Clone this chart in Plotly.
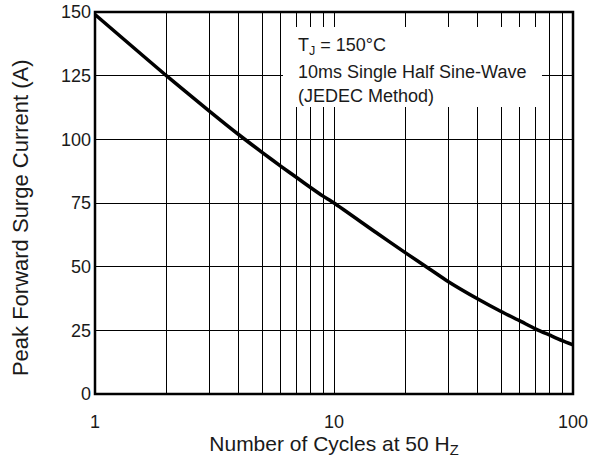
import plotly.graph_objects as go

cycles = [1, 2, 3, 4, 5, 6, 7, 8, 9, 10, 15, 20, 25, 30, 40, 50, 60, 70, 80, 90, 100]
current = [149, 124.8, 111.2, 101.8, 94.9, 89.4, 84.9, 81.0, 77.7, 75.0, 63.4, 55.3,
           49.2, 44.2, 37.3, 32.4, 28.7, 25.5, 23.1, 21.0, 19.3]

x_major = [1, 10, 100]
x_labels = ["1", "10", "100"]
x_minor = [2, 3, 4, 5, 6, 7, 8, 9, 20, 30, 40, 50, 60, 70, 80, 90]
y_ticks = [0, 25, 50, 75, 100, 125, 150]

note_lines = ["T<sub>J</sub> = 150°C", "10ms Single Half Sine-Wave", "(JEDEC Method)"]

FONT = "Liberation Sans, Arial, Helvetica, sans-serif"
TXT = "#1a1a1a"

fig = go.Figure()
fig.add_trace(go.Scatter(x=cycles, y=current, mode="lines",
                         line=dict(color="black", width=3.5, shape="spline", smoothing=0.6),
                         showlegend=False, hoverinfo="skip"))

fig.update_layout(
    width=599, height=462,
    margin=dict(l=95, r=26, t=12, b=68),
    paper_bgcolor="white", plot_bgcolor="white",
    font=dict(family=FONT, size=18, color=TXT),
    xaxis=dict(type="log", range=[0, 2], tickvals=x_major, ticktext=x_labels,
               showgrid=True, gridcolor="black", gridwidth=1,
               minor=dict(tickvals=x_minor, showgrid=True, gridcolor="black",
                          gridwidth=1, ticks=""),
               showline=False, ticks="", ticklabelstandoff=15, zeroline=False,
               automargin=False, tickfont=dict(size=18),
               title=dict(text="Number of Cycles at 50 H<sub>Z</sub>",
                          font=dict(size=21, family=FONT, color=TXT), standoff=3)),
    yaxis=dict(range=[0, 150], tickvals=y_ticks,
               showgrid=True, gridcolor="black", gridwidth=1,
               showline=False, ticks="", ticklabelstandoff=3, zeroline=False,
               automargin=False, tickfont=dict(size=18)),
)

# y-axis title (placed slightly below the plot centre, as in the reference)
fig.add_annotation(xref="paper", yref="paper", x=-0.157, y=0.463,
                   xanchor="center", yanchor="middle", textangle=-90, showarrow=False,
                   text="Peak Forward Surge Current (A)",
                   font=dict(size=22, family=FONT, color=TXT))

# white legend box hiding the grid
fig.add_shape(type="rect", xref="paper", yref="paper",
              x0=0.3933, x1=0.9351, y0=0.7513, y1=0.9607,
              fillcolor="white", line=dict(width=0), layer="above")
# heavy frame
fig.add_shape(type="rect", xref="paper", yref="paper", x0=0, x1=1, y0=0, y1=1,
              line=dict(color="black", width=2.5), fillcolor="rgba(0,0,0,0)", layer="above")

for txt, yy in zip(note_lines, [0.9084, 0.8429, 0.7801]):
    fig.add_annotation(xref="paper", yref="paper", x=0.4205, y=yy,
                       xanchor="left", yanchor="middle", align="left", showarrow=False,
                       text=txt, font=dict(size=18, family=FONT, color=TXT))

# remove the default 8px page margin so the figure fills the window exactly
fig.write_html("out.html", config={"displayModeBar": False},
               post_script="document.body.style.margin='0';")
